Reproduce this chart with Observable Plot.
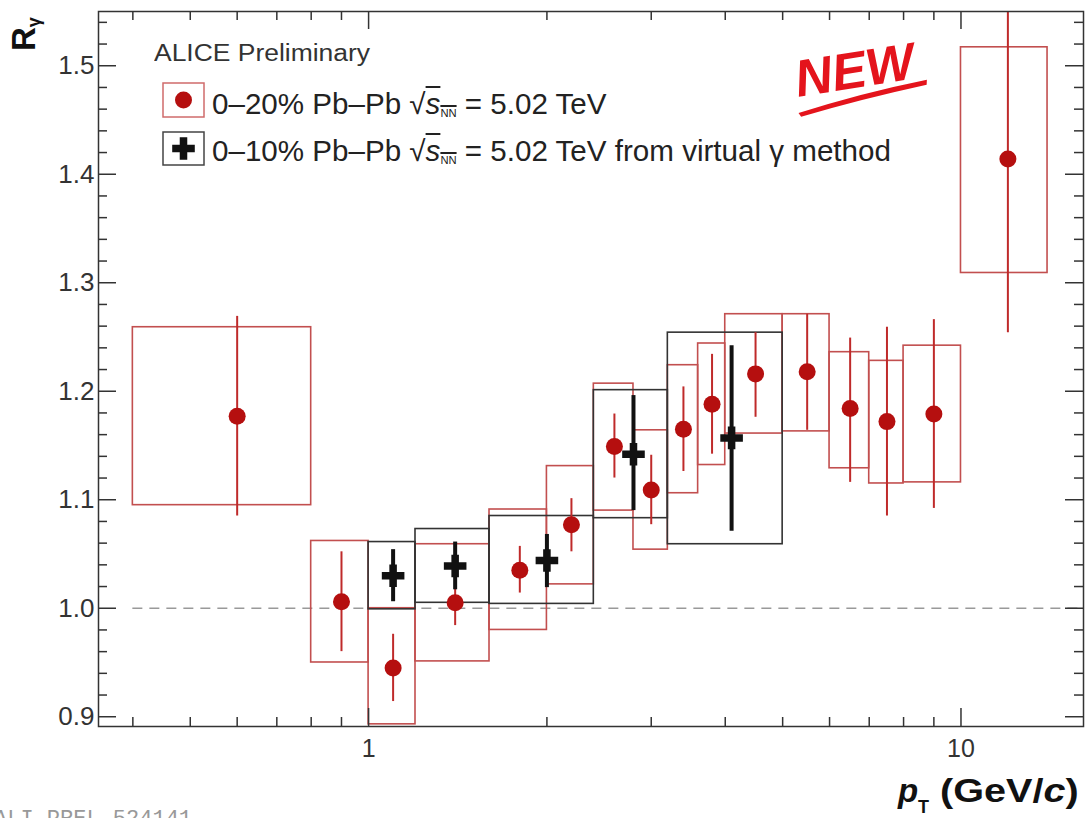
<!DOCTYPE html>
<html><head><meta charset="utf-8">
<script src="https://cdn.jsdelivr.net/npm/d3@7"></script>
<script src="https://cdn.jsdelivr.net/npm/@observablehq/plot@0.6"></script>
<style>
body{margin:0;background:#fff;}
#wrap{position:relative;width:1089px;height:818px;overflow:hidden;font-family:"Liberation Sans",Arial,sans-serif;background:#fff;}
#wrap svg{position:absolute;left:0;top:0;}
.ov{position:absolute;white-space:nowrap;color:#222;line-height:1;}
.ov sub{font-size:11px;vertical-align:-3px;}
</style></head><body><div id="wrap"></div>
<script>
// ---- 0-20% Pb-Pb (real photons) ----
const redX     = [0.6, 0.9, 1.1, 1.4, 1.8, 2.2, 2.6, 3.0, 3.4, 3.8, 4.5, 5.5, 6.5, 7.5, 9.0, 12.0];
const redY     = [1.177, 1.006, 0.945, 1.005, 1.035, 1.077, 1.149, 1.109, 1.165, 1.188, 1.216, 1.218, 1.184, 1.172, 1.179, 1.414];
const redStatLo= [1.085, 0.960, 0.914, 0.984, 1.014, 1.052, 1.120, 1.077, 1.126, 1.142, 1.176, 1.164, 1.116, 1.085, 1.092, 1.254];
const redStatHi= [1.269, 1.052, 0.976, 1.026, 1.057, 1.101, 1.179, 1.141, 1.204, 1.234, 1.254, 1.271, 1.249, 1.259, 1.266, 1.574];
const redBinLo = [0.4, 0.8, 1.0, 1.2, 1.6, 2.0, 2.4, 2.8, 3.2, 3.6, 4.0, 5.0, 6.0, 7.0, 8.0, 10.0];
const redBinHi = [0.8, 1.0, 1.2, 1.6, 2.0, 2.4, 2.8, 3.2, 3.6, 4.0, 5.0, 6.0, 7.0, 8.0, 10.0, 14.0];
const redSysLo = [1.095, 0.950, 0.893, 0.951, 0.980, 1.022, 1.090, 1.054, 1.106, 1.132, 1.161, 1.163, 1.129, 1.115, 1.116, 1.309];
const redSysHi = [1.259, 1.062, 1.000, 1.059, 1.091, 1.131, 1.207, 1.164, 1.224, 1.244, 1.271, 1.271, 1.236, 1.228, 1.242, 1.517];
// ---- 0-10% Pb-Pb (virtual photon method) ----
const blkX     = [1.1, 1.4, 2.0, 2.8, 4.1];
const blkY     = [1.030, 1.039, 1.044, 1.142, 1.157];
const blkStatLo= [1.006, 1.017, 1.019, 1.090, 1.071];
const blkStatHi= [1.054, 1.061, 1.068, 1.196, 1.242];
const blkBinLo = [1.0, 1.2, 1.6, 2.4, 3.2];
const blkBinHi = [1.2, 1.6, 2.4, 3.2, 5.0];
const blkSysLo = [0.999, 1.005, 1.004, 1.083, 1.059];
const blkSysHi = [1.061, 1.073, 1.085, 1.201, 1.254];
// ---- ticks ----
const yMajor = [0.9, 1.0, 1.1, 1.2, 1.3, 1.4, 1.5];
const yMinor = [0.92,0.94,0.96,0.98,1.02,1.04,1.06,1.08,1.12,1.14,1.16,1.18,1.22,1.24,1.26,1.28,1.32,1.34,1.36,1.38,1.42,1.44,1.46,1.48,1.52,1.54];
const xMajor = [1, 10];
const xMinor = [0.4,0.5,0.6,0.7,0.8,0.9,2,3,4,5,6,7,8,9];
const xTickLabels = ["1", "10"];
const refLine = [1.0];

const red = redX.map((x,i)=>({x, y:redY[i], sLo:redStatLo[i], sHi:redStatHi[i], bLo:redBinLo[i], bHi:redBinHi[i], yLo:redSysLo[i], yHi:redSysHi[i]}));
const blk = blkX.map((x,i)=>({x, y:blkY[i], sLo:blkStatLo[i], sHi:blkStatHi[i], bLo:blkBinLo[i], bHi:blkBinHi[i], yLo:blkSysLo[i], yHi:blkSysHi[i]}));

const W=1089, H=818, mL=98, mR=6, mT=11, mB=92;
const fw = W-mL-mR, fh = H-mT-mB;
const RED_BOX="#c24f4f", RED_ERR="#bf2a2a", RED_DOT="#b50f0f";

const chart = Plot.plot({
  width: W, height: H,
  marginLeft: mL, marginRight: mR, marginTop: mT, marginBottom: mB,
  x: {type:"log", domain:[0.35, 16.1]},
  y: {domain:[0.891, 1.55]},
  style: {fontFamily:'"Liberation Sans", Arial, sans-serif', background:"transparent", color:"#333"},
  marks: [
    Plot.ruleY(refLine, {y:d=>d, x1:0.4, x2:16, stroke:"#999", strokeWidth:1.6, strokeDasharray:"10,7"}),
    Plot.rect(red, {x1:"bLo", x2:"bHi", y1:"yLo", y2:"yHi", fill:"none", stroke:RED_BOX, strokeWidth:1.6}),
    Plot.rect(blk, {x1:"bLo", x2:"bHi", y1:"yLo", y2:"yHi", fill:"none", stroke:"#333", strokeWidth:1.6}),
    Plot.ruleX(red, {x:"x", y1:"sLo", y2:"sHi", stroke:RED_ERR, strokeWidth:2, clip:true}),
    Plot.ruleX(blk, {x:"x", y1:"sLo", y2:"sHi", stroke:"#111", strokeWidth:4}),
    Plot.dot(red, {x:"x", y:"y", r:8.5, fill:RED_DOT}),
    Plot.dot(blk, {x:"x", y:"y", symbol:"cross", r:9.5, fill:"#111"}),
    Plot.frame({stroke:"#333", strokeWidth:1.5}),
    Plot.tickY(yMajor, {y:d=>d, insetRight:fw-18, stroke:"#333", strokeWidth:1.5}),
    Plot.tickY(yMinor, {y:d=>d, insetRight:fw-9, stroke:"#333", strokeWidth:1.5}),
    Plot.tickY(yMajor, {y:d=>d, insetLeft:fw-18, stroke:"#333", strokeWidth:1.5}),
    Plot.tickY(yMinor, {y:d=>d, insetLeft:fw-9, stroke:"#333", strokeWidth:1.5}),
    Plot.tickX(xMajor, {x:d=>d, insetTop:fh-18, stroke:"#333", strokeWidth:1.5}),
    Plot.tickX(xMinor, {x:d=>d, insetTop:fh-9, stroke:"#333", strokeWidth:1.5}),
    Plot.tickX(xMajor, {x:d=>d, insetBottom:fh-18, stroke:"#333", strokeWidth:1.5}),
    Plot.tickX(xMinor, {x:d=>d, insetBottom:fh-9, stroke:"#333", strokeWidth:1.5}),
    Plot.axisY({ticks:yMajor, tickSize:0, tickPadding:4, tickFormat:d3.format(".1f"), fontSize:26, label:null, color:"#333"}),
    Plot.axisX({ticks:xMajor, tickSize:0, tickPadding:13, tickFormat:(d)=>xTickLabels[xMajor.indexOf(d)], fontSize:25, label:null, color:"#333"})
  ]
});
const wrap = document.getElementById("wrap");
wrap.appendChild(chart);

// ---- overlay: legend, titles, stamp ----
const ov = d3.select(wrap).append("svg").attr("width",W).attr("height",H).style("pointer-events","none");
ov.append("rect").attr("x",163).attr("y",83).attr("width",41).attr("height",34).attr("fill","none").attr("stroke","#cf6b6b").attr("stroke-width",1.5);
ov.append("circle").attr("cx",183.5).attr("cy",100).attr("r",8.5).attr("fill",RED_DOT);
ov.append("rect").attr("x",163).attr("y",132).attr("width",41).attr("height",33).attr("fill","none").attr("stroke","#444").attr("stroke-width",1.5);
ov.append("path").attr("d", d3.symbol(d3.symbolCross, Math.PI*9.5*9.5)()).attr("transform","translate(183.5,148.5)").attr("fill","#111");
// NEW stamp
const st = ov.append("g").attr("transform","translate(798,97) rotate(-9)");
st.append("text").text("NEW").attr("font-family",'"Liberation Sans", Arial, sans-serif').attr("font-weight",900).attr("font-style","italic").attr("font-size",52).attr("fill","#e4141c").attr("textLength",120).attr("lengthAdjust","spacingAndGlyphs");
st.append("path").attr("d","M-2,16 Q60,6 130,3 L129,8 Q60,12 0,20 Z").attr("fill","#e4141c");
// ALI-PREL tag
ov.append("text").attr("x",-6).attr("y",825).text("ALI-PREL-524141").attr("font-family",'"Liberation Mono", "DejaVu Sans Mono", monospace').attr("font-size",22).attr("fill","#999");

function addDiv(html, css){ const d=document.createElement("div"); d.className="ov"; d.innerHTML=html; Object.assign(d.style, css); wrap.appendChild(d); return d; }
addDiv("ALICE Preliminary", {left:"154px", top:"42px", fontSize:"23px", color:"#333", transform:"scaleX(1.15)", transformOrigin:"left top"});
const sq = '√<span style="text-decoration:overline"><i>s</i><sub>NN</sub></span>';
addDiv("0–20% Pb–Pb "+sq+" = 5.02 TeV", {left:"212px", top:"90px", fontSize:"29px", transform:"scaleX(1.02)", transformOrigin:"left top"});
addDiv("0–10% Pb–Pb "+sq+" = 5.02 TeV from virtual γ method", {left:"212px", top:"137px", fontSize:"29px", transform:"scaleX(1.02)", transformOrigin:"left top"});
addDiv('<b>p</b>', {left:"898px", top:"774px", fontSize:"33px", fontStyle:"italic", color:"#111"});
addDiv('<b>T</b>', {left:"918px", top:"798px", fontSize:"18px", color:"#111"});
addDiv('<b>(GeV/<i>c</i>)</b>', {left:"940px", top:"774px", fontSize:"33px", color:"#111", transform:"scaleX(1.2)", transformOrigin:"left top"});
addDiv('<b>R</b><sub style="font-size:18px;vertical-align:-5px"><b>γ</b></sub>', {left:"7px", top:"51px", fontSize:"33px", color:"#111", transform:"rotate(-90deg)", transformOrigin:"left top"});
</script></body></html>
